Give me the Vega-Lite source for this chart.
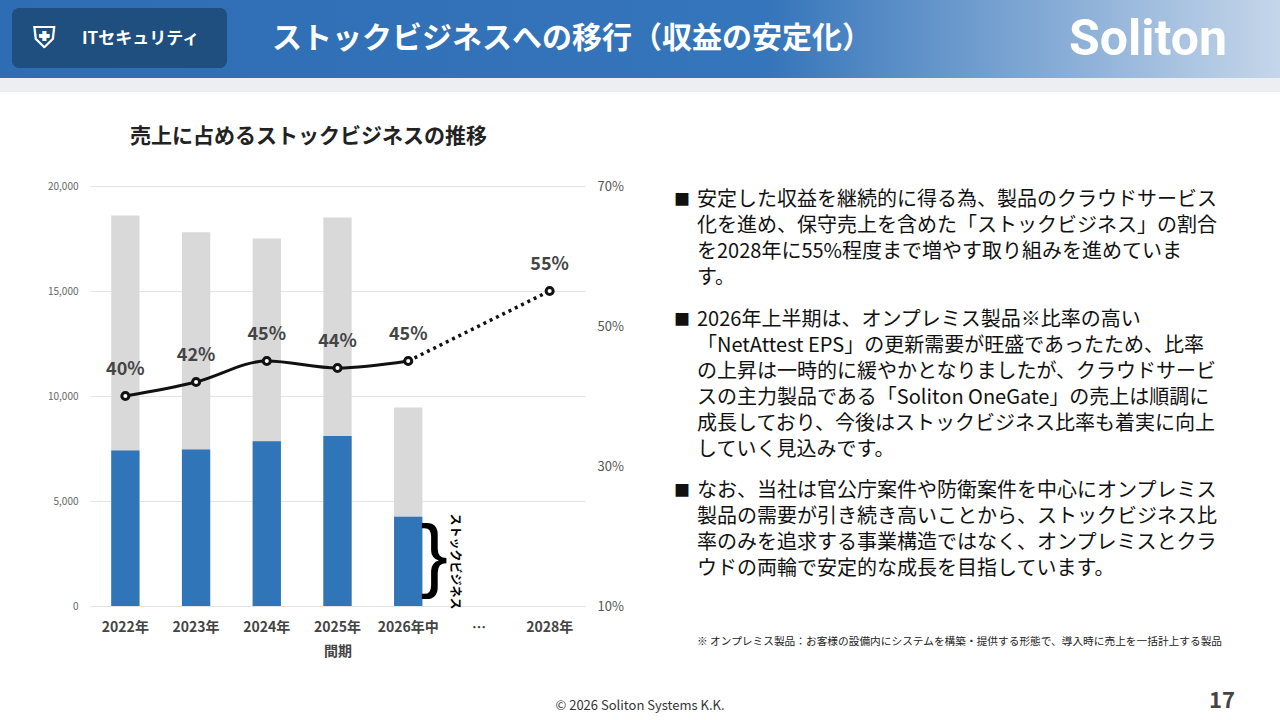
{
  "$schema": "https://vega.github.io/schema/vega-lite/v6.json",
  "padding": 0,
  "background": "white",
  "spacing": 0,
  "align": "none",
  "config": {"font": "Noto Sans CJK JP", "view": {"stroke": null}, "concat": {"spacing": 0}},
  "vconcat": [
    {
      "width": 1190,
      "height": 126,
      "data": {"values": [{"t": "ITセキュリティ", "k": "tag"}, {"t": "ストックビジネスへの移行（収益の安定化）", "k": "title"}, {"t": "Soliton", "k": "logo"}]},
      "layer": [
        {"mark": {"type": "rect", "x": -90, "x2": 1190, "y": 0, "y2": 78, "color": {"gradient": "linear", "x1": 0, "x2": 1, "y1": 0, "y2": 0, "stops": [{"offset": 0, "color": "#2e6db3"}, {"offset": 0.6, "color": "#3575bb"}, {"offset": 1, "color": "#c5d6ea"}]}}, "encoding": {}},
        {"mark": {"type": "rect", "x": -90, "x2": 1190, "y": 78, "y2": 92, "color": "#eceef1"}, "encoding": {}},
        {"mark": {"type": "rect", "x": -78, "x2": 137, "y": 8, "y2": 68, "cornerRadius": 8, "color": "#1f4f7e"}, "encoding": {}},
        {"transform": [{"filter": "datum.k == 'tag'"}], "mark": {"type": "text", "x": -8, "y": 39, "align": "left", "fontSize": 17, "fontWeight": "bold", "color": "white"}, "encoding": {"text": {"field": "t"}}},
        {"mark": {"type": "text", "x": -46, "y": 39, "text": "⛨", "fontSize": 30, "color": "white", "font": "DejaVu Sans"}, "encoding": {}},
        {"transform": [{"filter": "datum.k == 'title'"}], "mark": {"type": "text", "x": 182, "y": 39, "align": "left", "fontSize": 30, "fontWeight": "bold", "color": "white"}, "encoding": {"text": {"field": "t"}}},
        {"transform": [{"filter": "datum.k == 'logo'"}], "mark": {"type": "text", "x": 1058, "y": 40, "align": "center", "fontSize": 50, "fontWeight": "bold", "color": "white", "font": "Roboto"}, "encoding": {"text": {"field": "t"}}}
      ]
    },
    {
      "spacing": 50,
      "hconcat": [
        {
          "width": 495,
          "height": 420,
          "title": {"text": "売上に占めるストックビジネスの推移", "anchor": "start", "offset": 33, "dx": 130, "fontSize": 21, "fontWeight": "bold", "color": "#222"},
          "data": {"values": [
            {"period": "2022年", "total": 18600, "stock": 7400, "ratio": 40, "label": "40%"},
            {"period": "2023年", "total": 17800, "stock": 7450, "ratio": 42, "label": "42%"},
            {"period": "2024年", "total": 17500, "stock": 7850, "ratio": 45, "label": "45%"},
            {"period": "2025年", "total": 18500, "stock": 8100, "ratio": 44, "label": "44%"},
            {"period": "2026年中", "total": 9450, "stock": 4250, "ratio": 45, "label": "45%"},
            {"period": "…", "total": null, "stock": null, "ratio": null, "label": null},
            {"period": "2028年", "total": null, "stock": null, "ratio": 55, "label": "55%"}
          ]},
          "encoding": {
            "x": {"field": "period", "type": "nominal", "sort": null, "title": "間期",
              "scale": {"domain": ["2022年", "2023年", "2024年", "2025年", "2026年中", "…", "2028年"], "paddingInner": 0.6, "paddingOuter": 0.3},
              "axis": {"labelAngle": 0, "domain": false, "ticks": false, "labelFontSize": 14, "labelFontWeight": "bold", "labelColor": "#444", "labelPadding": 14, "titleFontSize": 14, "titleFontWeight": "bold", "titleColor": "#444", "titlePadding": 10}}
          },
          "layer": [
            {"mark": {"type": "bar", "color": "#d9d9d9"},
              "encoding": {"y": {"field": "total", "type": "quantitative", "scale": {"domain": [0, 20000]}, "title": null,
                "axis": {"values": [0, 5000, 10000, 15000, 20000], "labelExpr": "format(datum.value, ',')", "domain": false, "ticks": false, "labelFontSize": 10, "labelColor": "#666", "labelPadding": 12, "minExtent": 90, "gridColor": "#e3e3e3"}}}},
            {"mark": {"type": "bar", "color": "#2f75b8"},
              "encoding": {"y": {"field": "stock", "type": "quantitative", "scale": {"domain": [0, 20000]}, "axis": null}}},
            {"transform": [{"filter": "datum.period == '2026年中'"}],
              "mark": {"type": "text", "text": "}", "fontSize": 82, "dx": 26, "dy": -4, "color": "#000", "font": "Liberation Sans"},
              "encoding": {"y": {"datum": 2125, "type": "quantitative", "scale": {"domain": [0, 20000]}, "axis": null}}},
            {"transform": [{"filter": "datum.period == '2026年中'"}],
              "mark": {"type": "text", "text": "ストックビジネス", "angle": 90, "fontSize": 12, "fontWeight": "bold", "dy": -47, "color": "#000"},
              "encoding": {"y": {"datum": 2125, "type": "quantitative", "scale": {"domain": [0, 20000]}, "axis": null}}},
            {"transform": [{"filter": "datum.ratio != null && datum.period != '2028年'"}],
              "mark": {"type": "line", "color": "#111", "strokeWidth": 3, "interpolate": "monotone"},
              "encoding": {"y": {"field": "ratio", "type": "quantitative", "scale": {"domain": [10, 70]}, "title": null,
                "axis": {"orient": "right", "values": [10, 30, 50, 70], "labelExpr": "datum.value + '%'", "domain": false, "ticks": false, "grid": false, "labelFontSize": 13, "labelColor": "#555", "labelPadding": 12}}}},
            {"transform": [{"filter": "datum.period == '2026年中' || datum.period == '2028年'"}],
              "mark": {"type": "line", "color": "#111", "strokeWidth": 3.5, "strokeDash": [3, 4]},
              "encoding": {"y": {"field": "ratio", "type": "quantitative", "scale": {"domain": [10, 70]}, "axis": null}}},
            {"transform": [{"filter": "datum.ratio != null"}],
              "mark": {"type": "point", "filled": true, "fill": "white", "stroke": "#111", "strokeWidth": 3, "size": 50, "opacity": 1},
              "encoding": {"y": {"field": "ratio", "type": "quantitative", "scale": {"domain": [10, 70]}, "axis": null}}},
            {"transform": [{"filter": "datum.ratio != null"}],
              "mark": {"type": "text", "fontSize": 18, "fontWeight": "bold", "color": "#444", "dy": -26},
              "encoding": {"y": {"field": "ratio", "type": "quantitative", "scale": {"domain": [10, 70]}, "axis": null}, "text": {"field": "label"}}}
          ],
          "resolve": {"scale": {"y": "independent"}}
        },
        {
          "width": 580,
          "height": 470,
          "data": {"values": [
            {"row": 0, "b": "■", "t": "安定した収益を継続的に得る為、製品のクラウドサービス"},
            {"row": 1, "b": "", "t": "化を進め、保守売上を含めた「ストックビジネス」の割合"},
            {"row": 2, "b": "", "t": "を2028年に55%程度まで増やす取り組みを進めていま"},
            {"row": 3, "b": "", "t": "す。"},
            {"row": 4.6, "b": "■", "t": "2026年上半期は、オンプレミス製品※比率の高い"},
            {"row": 5.6, "b": "", "t": "「NetAttest EPS」の更新需要が旺盛であったため、比率"},
            {"row": 6.6, "b": "", "t": "の上昇は一時的に緩やかとなりましたが、クラウドサービ"},
            {"row": 7.6, "b": "", "t": "スの主力製品である「Soliton OneGate」の売上は順調に"},
            {"row": 8.6, "b": "", "t": "成長しており、今後はストックビジネス比率も着実に向上"},
            {"row": 9.6, "b": "", "t": "していく見込みです。"},
            {"row": 11.2, "b": "■", "t": "なお、当社は官公庁案件や防衛案件を中心にオンプレミス"},
            {"row": 12.2, "b": "", "t": "製品の需要が引き続き高いことから、ストックビジネス比"},
            {"row": 13.2, "b": "", "t": "率のみを追求する事業構造ではなく、オンプレミスとクラ"},
            {"row": 14.2, "b": "", "t": "ウドの両輪で安定的な成長を目指しています。"}
          ]},
          "encoding": {"y": {"field": "row", "type": "quantitative", "scale": {"domain": [-0.55, 17.55], "reverse": true}, "axis": null}},
          "layer": [
            {"mark": {"type": "text", "x": 0, "align": "left", "fontSize": 16, "color": "#111"}, "encoding": {"text": {"field": "b"}}},
            {"mark": {"type": "text", "x": 23, "align": "left", "fontSize": 20, "color": "#111"}, "encoding": {"text": {"field": "t"}}},
            {"data": {"values": [{"row": 17, "t": "※ オンプレミス製品：お客様の設備内にシステムを構築・提供する形態で、導入時に売上を一括計上する製品"}]},
              "mark": {"type": "text", "x": 23, "align": "left", "fontSize": 10.7, "color": "#222"}, "encoding": {"text": {"field": "t"}}}
          ]
        }
      ]
    },
    {
      "width": 1190,
      "height": 40,
      "data": {"values": [{"t": "© 2026 Soliton Systems K.K.", "p": "c"}, {"t": "17", "p": "r"}]},
      "layer": [
        {"transform": [{"filter": "datum.p == 'c'"}], "mark": {"type": "text", "x": 550, "y": 48, "fontSize": 13, "color": "#333"}, "encoding": {"text": {"field": "t"}}},
        {"transform": [{"filter": "datum.p == 'r'"}], "mark": {"type": "text", "x": 1132, "y": 43, "fontSize": 22, "fontWeight": "bold", "color": "#444"}, "encoding": {"text": {"field": "t"}}}
      ]
    }
  ]
}
